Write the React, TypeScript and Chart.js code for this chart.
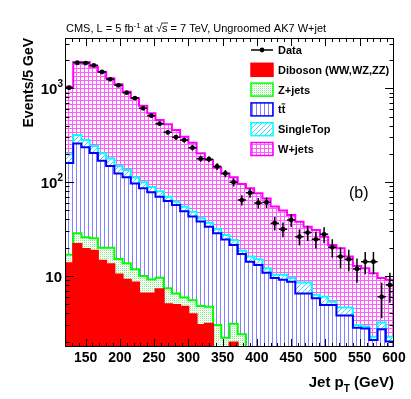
import { useEffect, useRef } from 'react';
import { Chart, registerables } from 'chart.js';

Chart.register(...registerables);

// ---------------- data ----------------
const binLowEdges = [120, 132, 144, 156, 168, 180, 192, 204, 216, 228, 240, 252, 264, 276, 288, 300, 312, 324, 336, 348, 360, 372, 384, 396, 408, 420, 432, 444, 456, 468, 480, 492, 504, 516, 528, 540, 552, 564, 576, 588];
const xMin = 120;
const xMax = 600;
const binWidth = 12;

const dataCounts = [1015, 1875, 1860, 1758, 1493, 1247, 1076, 898, 788, 612, 511, 420, 340, 301, 281, 233, 178, 176, 147, 124, 100, 64.5, 77, 60, 61, 36.5, 31.5, 39.6, 26.2, 29, 24.6, 27.8, 20.2, 16.1, 15.1, 11.9, 14.2, 14.2, 6.0, 8.0];

const diboson = [13.7, 21.9, 19.4, 18.6, 14.5, 13.3, 10.4, 9.1, 8.5, 6.5, 6.5, 7.2, 5.0, 4.9, 4.7, 3.9, 3.0, 3.1, 0, 0, 1.95, 0, 0, 0, 0, 0, 0, 0, 0, 0, 0, 0, 0, 0, 0, 0, 0, 0, 0, 0];
const zjets = [3.1, 6.6, 6.4, 6.6, 5.5, 6.7, 4.8, 4.6, 3.3, 3.5, 2.7, 2.4, 2.4, 1.6, 1.2, 1.6, 1.8, 1.6, 3.0, 2.2, 1.15, 2.4, 0, 0, 0, 0, 0, 0, 0, 0, 0, 0, 0, 0, 0, 0, 0, 0, 0, 0];
const ttbar = [143.2, 230.5, 210.2, 179.8, 149, 129, 108.8, 99.3, 85.2, 76, 68.8, 60.4, 55.6, 50.5, 43.1, 37.5, 33.2, 28.8, 25.5, 22.3, 18.3, 14.7, 14.2, 13.1, 10.8, 9.5, 9.1, 8.7, 6.5, 6.5, 5.8, 4.9, 4.9, 3.8, 3.8, 2.8, 2.75, 2.08, 2.7, 2.0];
const singleTop = [38, 59, 46, 38, 34, 30, 25, 22, 15, 14, 11, 10, 7, 5, 5.7, 5.4, 3.2, 3.5, 3.0, 2.9, 2.8, 1.5, 1.9, 2.0, 1.3, 0.8, 1.2, 0.8, 2.0, 2.0, 0.5, 1.1, 0.4, 0.8, 0.8, 0.2, 0.15, 0.17, 0.5, 0.25];
const wjets = [842, 1587, 1623, 1457, 1300, 1099, 955, 786, 670, 553, 453, 379, 343, 298, 250.3, 214.6, 161.8, 135, 111.5, 96.6, 88.8, 77, 69.9, 60.9, 54.9, 44.7, 39.7, 35.1, 29.4, 25, 24.6, 20.2, 16.1, 15.1, 11.5, 9.8, 9.2, 8.45, 6.3, 6.85];

const xTickValues = [150, 200, 250, 300, 350, 400, 450, 500, 550, 600];
const xTickLabels = ['150', '200', '250', '300', '350', '400', '450', '500', '550', '600'];
const yDecadeValues = [10, 100, 1000];
const yDecadeExponents = ['', '2', '3'];
const yMin = 1.75;
const yMax = 3440;

const legendLabels = ['Data', 'Diboson (WW,WZ,ZZ)', 'Z+jets', 'tt', 'SingleTop', 'W+jets'];

const FONT = '"Liberation Sans", Arial, Helvetica, sans-serif';

function makePattern(ctx: CanvasRenderingContext2D, w: number, h: number, draw: (g: CanvasRenderingContext2D) => void) {
  const c = document.createElement('canvas');
  c.width = w;
  c.height = h;
  const g = c.getContext('2d')!;
  g.fillStyle = '#ffffff';
  g.fillRect(0, 0, w, h);
  draw(g);
  return ctx.createPattern(c, 'repeat')!;
}

export default function App() {
  const ref = useRef<HTMLCanvasElement>(null);

  useEffect(() => {
    const canvas = ref.current!;
    const mainCtx = canvas.getContext('2d')!;

    const redFill = '#ff0000';
    const zPat = makePattern(mainCtx, 2, 2, (g) => { g.fillStyle = '#8fea8f'; g.fillRect(0, 0, 1, 1); g.fillStyle = '#e4fbe4'; g.fillRect(1, 1, 1, 1); });
    const ttPat = makePattern(mainCtx, 4, 1, (g) => { g.fillStyle = '#8282ff'; g.fillRect(0, 0, 1, 1); });
    const stPat = makePattern(mainCtx, 5, 5, (g) => { g.fillStyle = '#40d4ff'; for (let i = 0; i < 5; i++) g.fillRect(i, 4 - i, 1, 1); });
    const wPat = makePattern(mainCtx, 4, 4, (g) => { g.fillStyle = '#ff5cff'; g.fillRect(0, 0, 4, 1); g.fillRect(0, 0, 1, 4); });

    const components = [diboson, zjets, ttbar, singleTop, wjets];
    const lineColors = ['#ff0000', '#00ff00', '#0000ff', '#00ffff', '#ff00ff'];
    const fills: any[] = [redFill, zPat, ttPat, stPat, wPat];
    const floorVal = 0.5;

    const stackPoints = (k: number) => {
      const cum = binLowEdges.map((_, i) => {
        let s = 0;
        for (let j = 0; j <= k; j++) s += components[j][i];
        return s > 0 ? s : floorVal;
      });
      const pts = binLowEdges.map((x, i) => ({ x, y: cum[i] }));
      pts.push({ x: xMax, y: cum[cum.length - 1] });
      return pts;
    };

    const histDatasets = components.map((_, k) => ({
      type: 'line' as const,
      data: stackPoints(k),
      stepped: 'before' as const,
      borderColor: lineColors[k],
      borderWidth: 2,
      backgroundColor: fills[k],
      fill: k === 0 ? 'start' : '-1',
      pointRadius: 0,
      clip: 0,
    }));

    const dataDataset = {
      type: 'line' as const,
      data: dataCounts.map((v, i) => ({ x: binLowEdges[i] + binWidth / 2, y: v })),
      showLine: false,
      pointRadius: 2.4,
      pointBackgroundColor: '#000',
      pointBorderColor: '#000',
      pointBorderWidth: 0,
      fill: false,
      order: -1,
    };

    const decor = {
      id: 'decor',
      beforeDraw(chart: any) {
        const c = chart.ctx;
        c.save();
        c.fillStyle = '#fff';
        c.fillRect(0, 0, chart.width, chart.height);
        c.restore();
      },
      afterDatasetsDraw(chart: any) {
        const c = chart.ctx;
        const xs = chart.scales.x;
        const ys = chart.scales.y;
        c.save();
        c.beginPath();
        c.rect(chart.chartArea.left, chart.chartArea.top, chart.chartArea.right - chart.chartArea.left, chart.chartArea.bottom - chart.chartArea.top);
        c.clip();
        c.strokeStyle = '#000';
        c.lineWidth = 1.5;
        dataCounts.forEach((v, i) => {
          const lo = binLowEdges[i];
          const x0 = xs.getPixelForValue(lo);
          const x1 = xs.getPixelForValue(lo + binWidth);
          const xc = xs.getPixelForValue(lo + binWidth / 2);
          const y = ys.getPixelForValue(v);
          const e = Math.sqrt(v);
          const yl = ys.getPixelForValue(Math.max(v - e, 0.3));
          const yh = ys.getPixelForValue(v + e);
          c.beginPath();
          c.moveTo(x0, y);
          c.lineTo(x1, y);
          c.moveTo(xc, yl);
          c.lineTo(xc, yh);
          c.stroke();
        });
        c.restore();
      },
      afterDraw(chart: any) {
        const c = chart.ctx as CanvasRenderingContext2D;
        const xs = chart.scales.x;
        const ys = chart.scales.y;
        const { left, right, top, bottom } = chart.chartArea;
        c.save();
        // frame
        c.strokeStyle = '#000';
        c.lineWidth = 1;
        c.strokeRect(left + 0.5, top + 0.5, right - left - 1, bottom - top - 1);
        // x ticks
        c.beginPath();
        for (let v = xMin + 10; v < xMax; v += 10) {
          const x = Math.round(xs.getPixelForValue(v)) + 0.5;
          const L = v % 50 === 0 ? 8 : 4;
          c.moveTo(x, bottom);
          c.lineTo(x, bottom - L);
          c.moveTo(x, top);
          c.lineTo(x, top + L);
        }
        // y ticks
        for (const d of [1, 10, 100, 1000]) {
          for (let k = 1; k <= 9; k++) {
            const v = k * d;
            if (v <= yMin || v >= yMax) continue;
            const y = Math.round(ys.getPixelForValue(v)) + 0.5;
            const L = k === 1 ? 9 : 4.5;
            c.moveTo(left, y);
            c.lineTo(left + L, y);
            c.moveTo(right, y);
            c.lineTo(right - L, y);
          }
        }
        c.stroke();

        c.fillStyle = '#000';
        // x tick labels
        c.font = `bold 14px ${FONT}`;
        c.textAlign = 'center';
        c.textBaseline = 'alphabetic';
        xTickValues.forEach((v, i) => {
          c.fillText(xTickLabels[i], xs.getPixelForValue(v), 362);
        });
        // y tick labels
        yDecadeValues.forEach((v, i) => {
          const y = ys.getPixelForValue(v);
          const exp = yDecadeExponents[i];
          c.textAlign = 'left';
          c.font = `bold 10px ${FONT}`;
          const ew = exp ? c.measureText(exp).width : 0;
          c.font = `bold 15px ${FONT}`;
          const bw = c.measureText('10').width;
          const xr = exp ? 63 : 62;
          const x0 = xr - ew - bw;
          c.fillText('10', x0, y + 6);
          if (exp) {
            c.font = `bold 10px ${FONT}`;
            c.fillText(exp, x0 + bw, y - 1);
          }
        });

        // title
        c.textAlign = 'left';
        let x = 66;
        const yb = 31.5;
        const seg = (t: string, font: string, dy = 0) => {
          c.font = font;
          c.fillText(t, x, yb + dy);
          const w = c.measureText(t).width;
          x += w;
          return w;
        };
        const F11 = `11px ${FONT}`;
        seg('CMS, L = 5 fb', F11);
        seg('-1', `8px ${FONT}`, -4);
        seg(' at ', F11);
        seg('\u221A', F11);
        const s0 = x;
        seg('s', F11);
        c.lineWidth = 0.8;
        c.beginPath();
        c.moveTo(s0 - 0.5, yb - 8.5);
        c.lineTo(x + 0.5, yb - 8.5);
        c.stroke();
        seg(' = 7 TeV, Ungroomed AK7 W+jet', F11);

        // x title
        const FX = `bold 15px ${FONT}`;
        const FXs = `bold 10px ${FONT}`;
        c.font = FX;
        const w1 = c.measureText('Jet p').width;
        const w3 = c.measureText(' (GeV)').width;
        c.font = FXs;
        const w2 = c.measureText('T').width;
        let xt = 394 - (w1 + w2 + w3);
        c.font = FX;
        c.fillText('Jet p', xt, 387);
        xt += w1;
        c.font = FXs;
        c.fillText('T', xt, 392);
        xt += w2;
        c.font = FX;
        c.fillText(' (GeV)', xt, 387);

        // y title
        c.save();
        c.translate(33, 38);
        c.rotate(-Math.PI / 2);
        c.textAlign = 'right';
        c.font = `bold 14px ${FONT}`;
        c.fillText('Events/5 GeV', 0, 0);
        c.restore();

        // (b)
        c.font = `16px ${FONT}`;
        c.textAlign = 'left';
        c.fillText('(b)', 349, 198);

        // legend
        const lx = 251;
        const lw = 22;
        const lh = 13;
        const tx = 278;
        const centers = [50, 69.8, 89.6, 109.4, 129.2, 149];
        c.font = `bold 11px ${FONT}`;
        c.strokeStyle = '#000';
        c.lineWidth = 1.5;
        c.beginPath();
        c.moveTo(lx, centers[0]);
        c.lineTo(lx + lw, centers[0]);
        c.stroke();
        c.beginPath();
        c.arc(lx + lw / 2, centers[0], 2.4, 0, Math.PI * 2);
        c.fill();
        c.fillText(legendLabels[0], tx, centers[0] + 4);
        for (let k = 0; k < 5; k++) {
          const cy = centers[k + 1];
          c.fillStyle = fills[k];
          c.fillRect(lx, cy - lh / 2, lw, lh);
          c.strokeStyle = lineColors[k];
          c.lineWidth = 1.5;
          c.strokeRect(lx, cy - lh / 2, lw, lh);
          c.fillStyle = '#000';
          c.fillText(legendLabels[k + 1], tx, cy + 4);
          if (k === 2) {
            const wt = c.measureText('t').width;
            const wtt = c.measureText('tt').width;
            c.lineWidth = 1;
            c.strokeStyle = '#000';
            c.beginPath();
            c.moveTo(tx + wt, cy - 5.5);
            c.lineTo(tx + wtt, cy - 5.5);
            c.stroke();
          }
        }
        c.restore();
      },
    };

    const chart = new Chart(canvas, {
      type: 'line',
      data: { datasets: [...histDatasets, dataDataset] as any },
      options: {
        responsive: false,
        animation: false,
        devicePixelRatio: 1,
        events: [],
        layout: { padding: { left: 65, right: 17, top: 38, bottom: 52 } },
        scales: {
          x: { type: 'linear', min: xMin, max: xMax, display: false, bounds: 'data' },
          y: { type: 'logarithmic', min: yMin, max: yMax, display: false, bounds: 'data' },
        },
        plugins: { legend: { display: false }, tooltip: { enabled: false } },
      } as any,
      plugins: [decor],
    });
    return () => chart.destroy();
  }, []);

  return (
    <div style={{ position: 'fixed', left: 0, top: 0, width: 411, height: 399, background: '#fff' }}>
      <canvas ref={ref} width={411} height={399} style={{ width: 411, height: 399, display: 'block' }} />
    </div>
  );
}
